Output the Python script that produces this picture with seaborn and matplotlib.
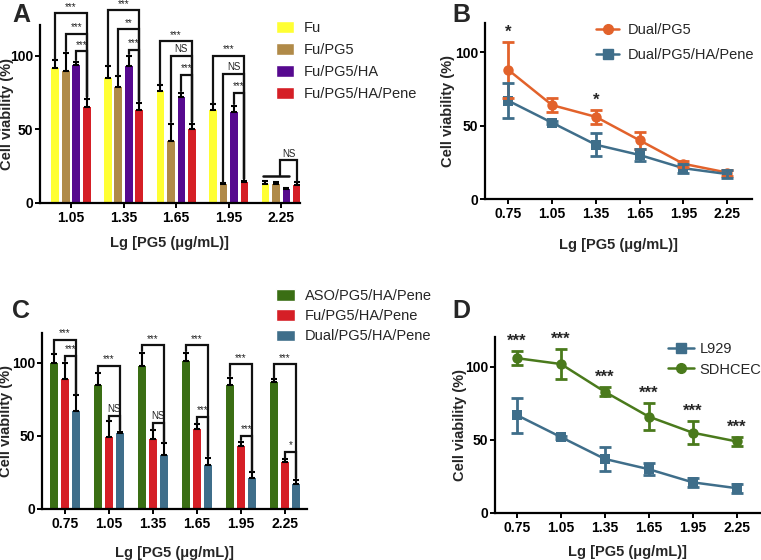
import numpy as np
import pandas as pd
import matplotlib
matplotlib.use("Agg")
import matplotlib.pyplot as plt
import seaborn as sns
from matplotlib.patches import Patch
from matplotlib.lines import Line2D

sns.set_theme(style="ticks")
plt.rcParams['font.family'] = ['Liberation Sans', 'DejaVu Sans']

# ---------------- data ----------------
# Panel A
concA = ["1.05", "1.35", "1.65", "1.95", "2.25"]
groupsA = ["Fu", "Fu/PG5", "Fu/PG5/HA", "Fu/PG5/HA/Pene"]
meanA = {
    "Fu":             [92, 85, 76, 63, 13],
    "Fu/PG5":         [90, 79, 42, 13, 13],
    "Fu/PG5/HA":      [94, 93, 72, 62, 9.5],
    "Fu/PG5/HA/Pene": [65, 63, 50, 14, 12.5],
}
errA = {
    "Fu":             [5, 8, 4, 4, 2],
    "Fu/PG5":         [12, 7, 12, 0.6, 1],
    "Fu/PG5/HA":      [2, 7, 3, 4, 0.6],
    "Fu/PG5/HA/Pene": [6, 5, 4, 1, 1.5],
}
colorsA = ["#FFFF33", "#B08A48", "#56098F", "#D51F26"]
# comparisons: (group index, bar i, bar j, bracket height, label)
sigA = [
    (0, 0, 3, 129, "***"), (0, 1, 3, 115, "***"), (0, 2, 3, 103, "***"),
    (1, 0, 3, 131, "***"), (1, 1, 3, 118, "**"), (1, 2, 3, 104, "***"),
    (2, 0, 3, 110, "***"), (2, 1, 3, 100, "NS"), (2, 2, 3, 87, "***"),
    (3, 0, 3, 100, "***"), (3, 1, 3, 88, "NS"), (3, 2, 3, 75, "***"),
]

# Panel B
concB = [0.75, 1.05, 1.35, 1.65, 1.95, 2.25]
dualPG5 = [88, 64, 56, 40, 24, 18]
dualPG5_err = [19, 5, 5, 6, 2, 2]
dualPene = [67, 52, 37, 30, 21, 17]
dualPene_err = [12, 1, 8, 4, 3, 3]
starsB = ["*", "", "*", "", "", ""]

# Panel C
concC = ["0.75", "1.05", "1.35", "1.65", "1.95", "2.25"]
groupsC = ["ASO/PG5/HA/Pene", "Fu/PG5/HA/Pene", "Dual/PG5/HA/Pene"]
meanC = {
    "ASO/PG5/HA/Pene":  [100, 85, 98, 101, 85, 87],
    "Fu/PG5/HA/Pene":   [89, 49, 48, 55, 43, 32],
    "Dual/PG5/HA/Pene": [67, 52, 37, 30, 21, 17],
}
errC = {
    "ASO/PG5/HA/Pene":  [6, 8, 9, 6, 5, 2],
    "Fu/PG5/HA/Pene":   [11, 11, 6, 3, 3, 2],
    "Dual/PG5/HA/Pene": [11, 1, 8, 5, 4, 3],
}
colorsC = ["#3A6E14", "#D51F26", "#3F6E8A"]
sigC = [
    (0, 0, 2, 116, "***"), (0, 1, 2, 105, "***"),
    (1, 0, 2, 98, "***"), (1, 1, 2, 64, "NS"),
    (2, 0, 2, 112, "***"), (2, 1, 2, 59, "NS"),
    (3, 0, 2, 112, "***"), (3, 1, 2, 63, "***"),
    (4, 0, 2, 99, "***"), (4, 1, 2, 50, "***"),
    (5, 0, 2, 99, "***"), (5, 1, 2, 39, "*"),
]

# Panel D
concD = [0.75, 1.05, 1.35, 1.65, 1.95, 2.25]
l929 = [67, 52, 37, 30, 21, 17]
l929_err = [12, 1, 8, 4, 3, 3]
sdhcec = [106, 102, 83, 66, 55, 49]
sdhcec_err = [5, 10, 3, 9, 8, 3]
starsD = ["***"] * 6

xlabel = "Lg [PG5 (μg/mL)]"
ylabel = "Cell viability (%)"

# ---------------- figure ----------------
W, H = 761, 560
fig = plt.figure(figsize=(W / 100, H / 100), dpi=100)


def add_ax(left, right, top, bottom):
    return fig.add_axes([left / W, 1 - bottom / H, (right - left) / W, (bottom - top) / H])


def style_ax(ax, ylab_x, xlab_y):
    sns.despine(ax=ax)
    for s in ["left", "bottom"]:
        ax.spines[s].set_linewidth(1.6)
        ax.spines[s].set_color("black")
    ax.tick_params(axis="both", direction="out", length=3.5, width=1.4, colors="black",
                   labelsize=10, pad=2)
    ax.tick_params(axis="y", pad=1.5)
    for lab in ax.get_xticklabels() + ax.get_yticklabels():
        lab.set_fontweight("bold")
    ax.set_xlabel(xlabel, fontsize=10.5, fontweight="bold", va="center")
    ax.set_ylabel(ylabel, fontsize=10.5, fontweight="bold", va="center")
    ax.yaxis.set_label_coords(ylab_x, 0.5)
    ax.xaxis.set_label_coords(0.5, xlab_y)
    ax.set_yticks([0, 50, 100])
    ax.set_facecolor("none")


def bar_panel(ax, conc, groups, means, errs, colors, width, gap):
    rows = []
    for g in groups:
        for c, v in zip(conc, means[g]):
            rows.append({"conc": c, "group": g, "val": v})
    df = pd.DataFrame(rows)
    sns.barplot(data=df, x="conc", y="val", hue="group", order=conc, hue_order=groups,
                palette=colors, width=width, gap=gap, errorbar=None, ax=ax,
                legend=False, saturation=1, linewidth=0)
    centers = {}
    for gi, (g, cont) in enumerate(zip(groups, ax.containers)):
        for ci, bar in enumerate(cont):
            xc = bar.get_x() + bar.get_width() / 2
            centers[(ci, gi)] = xc
            e = errs[g][ci]
            ax.errorbar(xc, means[g][ci], yerr=[[0], [e]], fmt="none", ecolor="black",
                        elinewidth=1.5, capsize=2.3, capthick=1.5, zorder=3)
    return centers


def bracket(ax, x1, x2, y1, y2, level, label, fs=7):
    ax.plot([x1, x1, x2, x2], [y1, level, level, y2], color="#111111", lw=1.6,
            clip_on=False, zorder=4, solid_joinstyle="miter")
    ax.text((x1 + x2) / 2, level + 1.0, label, ha="center", va="bottom", fontsize=fs,
            color="#222222", clip_on=False)


# ---- Panel A ----
axA = add_ax(40, 300, 25, 203)
cA = bar_panel(axA, concA, groupsA, meanA, errA, colorsA, 0.8, 0.28)
for gi, i, j, lev, lab in sigA:
    top_i = meanA[groupsA[i]][gi] + errA[groupsA[i]][gi] + 1
    top_j = meanA[groupsA[j]][gi] + errA[groupsA[j]][gi] + 1
    bracket(axA, cA[(gi, i)], cA[(gi, j)], top_i, top_j, lev, lab)
# last group: NS of pooled first three vs last
xa, xb = cA[(4, 0)] - 0.05, cA[(4, 2)] + 0.05
axA.plot([xa, xb], [18.5, 18.5], color="#111111", lw=1.8, zorder=4)
xm = (xa + xb) / 2 + 0.08
topP = meanA[groupsA[3]][4] + errA[groupsA[3]][4] + 1
bracket(axA, xm, cA[(4, 3)], 18.5, topP, 29, "NS")
axA.set_xlim(-0.59, 4.36)
axA.set_ylim(0, 121)
style_ax(axA, -0.128, -0.225)
axA.legend(handles=[Patch(facecolor=c, label=g) for c, g in zip(colorsA, groupsA)],
           loc="upper left", bbox_to_anchor=(276 / W, 1 - 21 / H), bbox_transform=fig.transFigure,
           frameon=False, fontsize=10.5, handlelength=1.2, handleheight=0.8,
           handletextpad=0.7, labelspacing=0.55, borderpad=0, borderaxespad=0)

# ---- Panel C ----
axC = add_ax(42, 307, 333, 509)
cC = bar_panel(axC, concC, groupsC, meanC, errC, colorsC, 0.75, 0.22)
for gi, i, j, lev, lab in sigC:
    top_i = meanC[groupsC[i]][gi] + errC[groupsC[i]][gi] + 1
    top_j = meanC[groupsC[j]][gi] + errC[groupsC[j]][gi] + 1
    bracket(axC, cC[(gi, i)], cC[(gi, j)], top_i, top_j, lev, lab)
axC.set_xlim(-0.52, 5.5)
axC.set_ylim(0, 120.5)
style_ax(axC, -0.135, -0.25)
axC.legend(handles=[Patch(facecolor=c, label=g) for c, g in zip(colorsC, groupsC)],
           loc="upper left", bbox_to_anchor=(276 / W, 1 - 289 / H), bbox_transform=fig.transFigure,
           frameon=False, fontsize=10.5, handlelength=1.3, handleheight=0.8,
           handletextpad=0.7, labelspacing=0.42, borderpad=0, borderaxespad=0)


# ---- line panels ----
def line_panel(ax, x, series, colors, markers, errs):
    rows = []
    for name, vals in series.items():
        for xi, v in zip(x, vals):
            rows.append({"x": xi, "y": v, "s": name})
    df = pd.DataFrame(rows)
    names = list(series.keys())
    sns.lineplot(data=df, x="x", y="y", hue="s", style="s", hue_order=names, style_order=names,
                 palette=colors, markers=markers, dashes=False, markersize=7.5,
                 markeredgewidth=0, linewidth=1.8, ax=ax, legend=False, errorbar=None)
    for name, c in zip(names, colors):
        ax.errorbar(x, series[name], yerr=errs[name], fmt="none", ecolor=c,
                    elinewidth=2.0, capsize=4, capthick=2.0, zorder=3)


colB = ["#E2622B", "#3F6E8A"]
axB = add_ax(485, 752, 23, 199)
line_panel(axB, concB, {"Dual/PG5": dualPG5, "Dual/PG5/HA/Pene": dualPene}, colB,
           {"Dual/PG5": "o", "Dual/PG5/HA/Pene": "s"},
           {"Dual/PG5": dualPG5_err, "Dual/PG5/HA/Pene": dualPene_err})
for xi, v, e, s in zip(concB, dualPG5, dualPG5_err, starsB):
    if s:
        axB.text(xi, v + e + 1.5, s, ha="center", va="bottom", fontsize=12, fontweight="bold")
axB.set_xlim(0.59, 2.42)
axB.set_ylim(0, 120)
axB.set_xticks(concB)
axB.set_xticklabels([f"{c:.2f}" for c in concB])
style_ax(axB, -0.139, -0.26)
axB.legend(handles=[Line2D([], [], color=colB[0], marker="o", lw=1.8, ms=7, label="Dual/PG5"),
                    Line2D([], [], color=colB[1], marker="s", lw=1.8, ms=7, label="Dual/PG5/HA/Pene")],
           loc="upper left", bbox_to_anchor=(596 / W, 1 - 23 / H), bbox_transform=fig.transFigure,
           frameon=False, fontsize=10.5, handlelength=1.6, handletextpad=0.55,
           labelspacing=0.75, borderpad=0, borderaxespad=0)

colD = ["#3F6E8A", "#4A7A1C"]
axD = add_ax(495, 760, 337, 513)
line_panel(axD, concD, {"L929": l929, "SDHCEC": sdhcec}, colD,
           {"L929": "s", "SDHCEC": "o"},
           {"L929": l929_err, "SDHCEC": sdhcec_err})
for xi, v, e, s in zip(concD, sdhcec, sdhcec_err, starsD):
    axD.text(xi, v + e + 1.5, s, ha="center", va="bottom", fontsize=12, fontweight="bold")
axD.set_xlim(0.60, 2.41)
axD.set_ylim(0, 120.5)
axD.set_xticks(concD)
axD.set_xticklabels([f"{c:.2f}" for c in concD])
style_ax(axD, -0.132, -0.22)
axD.legend(handles=[Line2D([], [], color=colD[0], marker="s", lw=1.8, ms=7, label="L929"),
                    Line2D([], [], color=colD[1], marker="o", lw=1.8, ms=7, label="SDHCEC")],
           loc="upper left", bbox_to_anchor=(668 / W, 1 - 342 / H), bbox_transform=fig.transFigure,
           frameon=False, fontsize=10.5, handlelength=1.8, handletextpad=0.35,
           labelspacing=0.45, borderpad=0, borderaxespad=0)

# panel letters
for lab, (x, y) in {"A": (12, 22), "B": (452, 22), "C": (12, 318), "D": (452, 318)}.items():
    fig.text(x / W, 1 - y / H, lab, fontsize=18, fontweight="bold", ha="left", va="baseline")

fig.savefig("out.png", dpi=100)
